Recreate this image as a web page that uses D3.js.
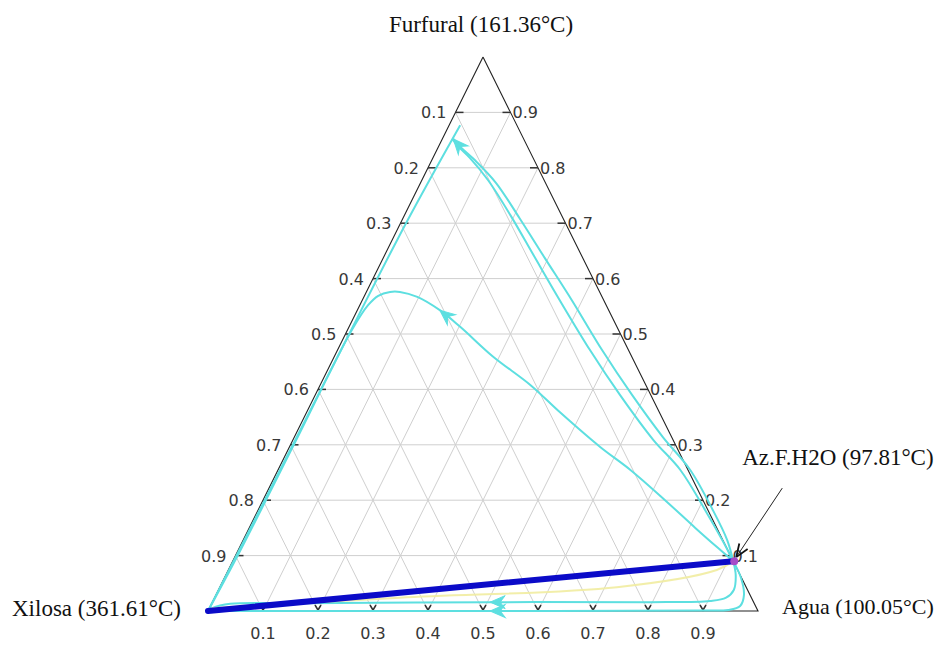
<!DOCTYPE html>
<html><head><meta charset="utf-8">
<script src="https://cdn.jsdelivr.net/npm/d3@7"></script>
<style>html,body{margin:0;padding:0;background:#fff;}</style>
</head><body>
<svg id="c" width="942" height="646"></svg>
<script>
// ---- data: compositions as [agua, furfural] (xilosa = 1 - agua - furfural)
const tickValues = [0.1,0.2,0.3,0.4,0.5,0.6,0.7,0.8,0.9];
const tickLabels = ["0.1","0.2","0.3","0.4","0.5","0.6","0.7","0.8","0.9"];
const vertexLabels = ["Furfural (161.36°C)", "Xilosa (361.61°C)", "Agua (100.05°C)"];
const azLabel = "Az.F.H2O (97.81°C)";
const azeotrope = [0.91, 0.09];
const xilosaVertex = [0, 0];
const curveA1 = [[0.91,0.09],[0.871,0.128],[0.813,0.182],[0.731,0.255],[0.655,0.309],[0.554,0.390],[0.459,0.471],[0.359,0.561],[0.270,0.643],[0.192,0.715],[0.120,0.778],[0.067,0.818],[0.035,0.839],[0.018,0.852]];
const curveA2 = [[0.91,0.09],[0.880,0.128],[0.827,0.182],[0.749,0.255],[0.670,0.314],[0.576,0.390],[0.481,0.471],[0.381,0.561],[0.294,0.637],[0.212,0.709],[0.137,0.773],[0.078,0.814],[0.038,0.839],[0.020,0.852]];
const curveB = [[0.91,0.09],[0.870,0.114],[0.811,0.150],[0.731,0.200],[0.640,0.255],[0.565,0.296],[0.460,0.359],[0.382,0.408],[0.289,0.459],[0.202,0.513],[0.150,0.543],[0.097,0.567],[0.061,0.576],[0.043,0.576],[0.025,0.569],[0.015,0.552],[0.008,0.507],[0.006,0.300],[0.004,0.100],[0.0,0.0]];
const curveC1 = [[0.91,0.09],[0.927,0.065],[0.937,0.038],[0.930,0.024],[0.904,0.018],[0.796,0.016],[0.505,0.016],[0.160,0.014],[0.034,0.013],[0.005,0.005],[0.0,0.0]];
const curveC2 = [[0.91,0.09],[0.939,0.060],[0.960,0.029],[0.963,0.009],[0.945,0.002],[0.894,0.001],[0.513,0.0],[0.004,0.0]];
const leftEdgeCurve = [[0.020,0.877],[0.010,0.700],[0.006,0.450],[0.003,0.200],[0.0,0.0]];
const yellowCurve = [[0.005,0.005],[0.337,0.024],[0.722,0.043],[0.888,0.074],[0.91,0.09]];
const boundary = [xilosaVertex, azeotrope];
// arrows: curve + index of arrow tip (direction from previous point)
const arrowSpecs = [{c:curveA2, i:13},{c:curveB, i:10},{c:curveC1, i:6},{c:curveC2, i:6}];

const svg = d3.select("#c");
const xScale = d3.scaleLinear().domain([0,1]).range([208,758]);
const yScale = d3.scaleLinear().domain([0,1]).range([611,57]);
const P = d => [xScale(d[0] + d[1]/2), yScale(d[1])];
const line = d3.line().x(d=>P(d)[0]).y(d=>P(d)[1]);
const smooth = d3.line().x(d=>P(d)[0]).y(d=>P(d)[1]).curve(d3.curveCatmullRom.alpha(0.5));

// grid
const g = svg.append("g").attr("stroke","#cfcfcf").attr("stroke-width",1).attr("fill","none");
tickValues.forEach(t=>{
  g.append("path").attr("d", line([[0,t],[1-t,t]]));        // furfural const
  g.append("path").attr("d", line([[t,0],[t,1-t]]));        // agua const
  g.append("path").attr("d", line([[1-t,0],[0,1-t]]));      // xilosa const
});
// edges
svg.append("path").attr("d", line([[0,1],[0,0],[1,0],[0,1]])).attr("fill","none").attr("stroke","#222").attr("stroke-width",1.1);
// ticks
const tk = svg.append("g").attr("stroke","#333").attr("stroke-width",1.5);
tickValues.forEach(t=>{
  const l = P([0,1-t]); tk.append("line").attr("x1",l[0]).attr("y1",l[1]).attr("x2",l[0]+8).attr("y2",l[1]);
  const r = P([1-t,t]); tk.append("line").attr("x1",r[0]).attr("y1",r[1]).attr("x2",r[0]-8).attr("y2",r[1]);
  const b = P([t,0]);
  tk.append("path").attr("fill","none").attr("d",`M${b[0]-3},${b[1]-6}L${b[0]},${b[1]-1}L${b[0]+3},${b[1]-6}`);
});
// tick labels
const lab = svg.append("g").attr("font-family","'DejaVu Sans', Verdana, sans-serif").attr("font-size",16).attr("fill","#383838");
tickValues.forEach((t,k)=>{
  const l = P([0,1-t]); lab.append("text").attr("x",l[0]-9).attr("y",l[1]+6).attr("text-anchor","end").text(tickLabels[k]);
  const r = P([1-t,t]); lab.append("text").attr("x",r[0]+2).attr("y",r[1]+6).attr("text-anchor","start").text(tickLabels[k]);
  const b = P([t,0]); lab.append("text").attr("x",b[0]).attr("y",b[1]+28).attr("text-anchor","middle").text(tickLabels[k]);
});
// curves
const cyan = "#5ddfe0";
const cg = svg.append("g").attr("fill","none").attr("stroke",cyan).attr("stroke-width",2).attr("stroke-linejoin","round");
[curveA1, curveA2, curveB, curveC1, curveC2, leftEdgeCurve].forEach(c=>cg.append("path").attr("d", smooth(c)));
svg.append("path").attr("d", smooth(yellowCurve)).attr("fill","none").attr("stroke","#f1eca0").attr("stroke-width",2).attr("opacity",0.9);
// boundary
svg.append("path").attr("d", line(boundary)).attr("fill","none").attr("stroke","#0b0bc8").attr("stroke-width",6).attr("stroke-linecap","round");
// arrows
arrowSpecs.forEach(s=>{
  const p = P(s.c[s.i]), q = P(s.c[s.i-1]);
  const ang = Math.atan2(p[1]-q[1], p[0]-q[0]) * 180/Math.PI;
  svg.append("path").attr("d","M0,0L-15,-6.5L-10,0L-15,6.5Z").attr("fill",cyan).attr("stroke",cyan).attr("stroke-width",1)
    .attr("transform",`translate(${p[0]},${p[1]}) rotate(${ang})`);
});
// azeotrope marker
const az = P(azeotrope);
svg.append("circle").attr("cx",az[0]+1).attr("cy",az[1]).attr("r",4).attr("fill","#a64bc8");
// annotation arrow
const st = [az[0]+49, az[1]-73];
svg.append("line").attr("x1",st[0]).attr("y1",st[1]).attr("x2",az[0]+3).attr("y2",az[1]-4).attr("stroke","#222").attr("stroke-width",1);
{
  const ang = Math.atan2((az[1]-4)-st[1], (az[0]+3)-st[0])*180/Math.PI;
  svg.append("path").attr("d","M0,0L-13,-5M0,0L-13,5").attr("stroke","#111").attr("stroke-width",1.8).attr("fill","none")
    .attr("transform",`translate(${az[0]+3},${az[1]-4}) rotate(${ang})`);
}
// vertex labels
const vl = svg.append("g").attr("font-family","'Liberation Serif','Times New Roman',serif").attr("font-size",23).attr("fill","#111");
const vTop = P([0,1]), vBL = P([0,0]), vBR = P([1,0]);
vl.append("text").attr("x",vTop[0]-2).attr("y",vTop[1]-25).attr("text-anchor","middle").text(vertexLabels[0]);
vl.append("text").attr("x",vBL[0]-196).attr("y",vBL[1]+5).attr("text-anchor","start").text(vertexLabels[1]);
vl.append("text").attr("x",vBR[0]+24).attr("y",vBR[1]+3).attr("text-anchor","start").attr("font-size",22).text(vertexLabels[2]);
vl.append("text").attr("x",az[0]+9).attr("y",az[1]-96).attr("text-anchor","start").text(azLabel);
</script>
</body></html>
